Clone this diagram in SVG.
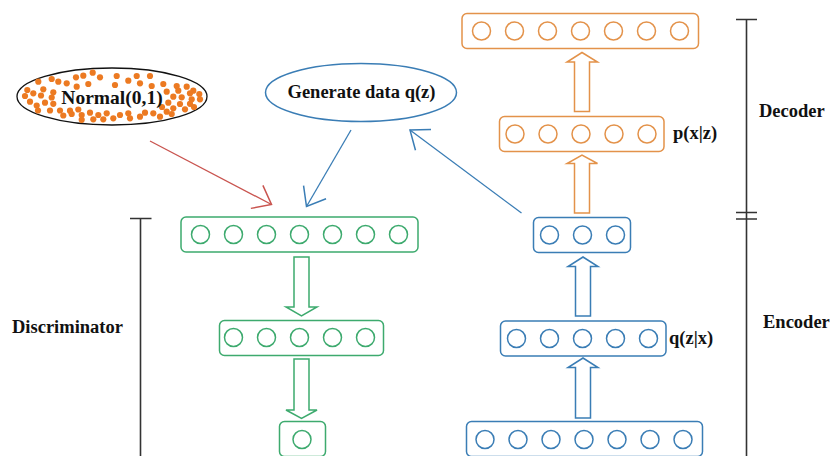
<svg xmlns="http://www.w3.org/2000/svg" width="832" height="456" viewBox="0 0 832 456">
  <style>
    .lbl { font-family: "Liberation Serif", "Times New Roman", serif; font-weight: bold; font-size: 18.5px; fill: #111; }
    .g { fill: none; stroke: #3DAA6E; stroke-width: 1.5; }
    .b { fill: none; stroke: #3A7DB5; stroke-width: 1.5; }
    .o { fill: none; stroke: #E3924A; stroke-width: 1.5; }
    .brk { stroke: #333; stroke-width: 1.6; fill: none; }
    .dot circle { fill: #EC7A22; r: 3.1px; }
  </style>
  <defs>
    <marker id="headBlue" viewBox="-20 -15 22 30" refX="0" refY="0" markerWidth="22" markerHeight="30" markerUnits="userSpaceOnUse" orient="auto" overflow="visible">
      <path d="M-16.5,-13 L0,0 L-16.5,13" fill="none" stroke="#3A7DB5" stroke-width="1.5"/>
    </marker>
    <marker id="headRed" viewBox="-20 -15 22 30" refX="0" refY="0" markerWidth="22" markerHeight="30" markerUnits="userSpaceOnUse" orient="auto" overflow="visible">
      <path d="M-16.5,-13 L0,0 L-16.5,13" fill="none" stroke="#C9544F" stroke-width="1.5"/>
    </marker>
  </defs>

  <rect width="832" height="456" fill="#fff"/>

  <!-- prior distribution -->
  <g id="normal">
    <ellipse cx="112" cy="96.5" rx="95" ry="28.5" fill="#fff" stroke="#111" stroke-width="1.3"/>
    <g class="dot">
      <circle cx="38.3" cy="81.7" r="3.1"/><circle cx="51.7" cy="79" r="3.1"/><circle cx="58.3" cy="81.7" r="3.1"/>
      <circle cx="66.7" cy="83.3" r="3.1"/><circle cx="76" cy="77.3" r="3.1"/><circle cx="83.3" cy="75.7" r="3.1"/>
      <circle cx="92.7" cy="72.7" r="3.1"/><circle cx="100" cy="77.3" r="3.1"/><circle cx="116.7" cy="76" r="3.1"/>
      <circle cx="136.7" cy="76" r="3.1"/><circle cx="150" cy="76" r="3.1"/><circle cx="128.3" cy="80.7" r="3.1"/>
      <circle cx="140" cy="83.3" r="3.1"/><circle cx="151.7" cy="86" r="3.1"/><circle cx="163.3" cy="84" r="3.1"/>
      <circle cx="176.7" cy="86" r="3.1"/><circle cx="186.7" cy="86.7" r="3.1"/><circle cx="193.3" cy="90.7" r="3.1"/>
      <circle cx="27.3" cy="90" r="3.1"/><circle cx="33.3" cy="93.3" r="3.1"/><circle cx="43.3" cy="89.3" r="3.1"/>
      <circle cx="53.3" cy="92.3" r="3.1"/><circle cx="25" cy="96" r="3.1"/><circle cx="41" cy="95.5" r="3.1"/>
      <circle cx="51.7" cy="97.5" r="3.1"/><circle cx="76.7" cy="86.7" r="3.1"/><circle cx="88.3" cy="84" r="3.1"/>
      <circle cx="115" cy="85" r="3.1"/><circle cx="166.7" cy="91.7" r="3.1"/>
      <circle cx="178.3" cy="90.7" r="3.1"/><circle cx="190" cy="93.3" r="3.1"/><circle cx="199.3" cy="94" r="3.1"/>
      <circle cx="173.3" cy="96.7" r="3.1"/><circle cx="181.7" cy="97.3" r="3.1"/><circle cx="191.7" cy="99.3" r="3.1"/>
      <circle cx="200" cy="99.3" r="3.1"/><circle cx="168.3" cy="102.7" r="3.1"/><circle cx="180" cy="104" r="3.1"/>
      <circle cx="190" cy="103.8" r="3.1"/><circle cx="162" cy="107" r="3.1"/>
      <circle cx="173.3" cy="108.3" r="3.1"/><circle cx="185" cy="109.3" r="3.1"/><circle cx="194" cy="107" r="3.1"/>
      <circle cx="30" cy="101.7" r="3.1"/><circle cx="36.7" cy="105.5" r="3.1"/><circle cx="45" cy="102.7" r="3.1"/>
      <circle cx="53.3" cy="103.8" r="3.1"/><circle cx="38" cy="110.5" r="3.1"/><circle cx="50" cy="110.5" r="3.1"/>
      <circle cx="60" cy="110.5" r="3.1"/><circle cx="70" cy="110.7" r="3.1"/><circle cx="63.3" cy="115.5" r="3.1"/>
      <circle cx="71.7" cy="114" r="3.1"/><circle cx="81.7" cy="115" r="3.1"/><circle cx="90" cy="112.7" r="3.1"/>
      <circle cx="98.3" cy="115" r="3.1"/><circle cx="93.3" cy="119.3" r="3.1"/><circle cx="103.3" cy="119.3" r="3.1"/>
      <circle cx="113.3" cy="118.3" r="3.1"/><circle cx="120" cy="115" r="3.1"/><circle cx="128.3" cy="113.3" r="3.1"/>
      <circle cx="130" cy="118.3" r="3.1"/><circle cx="140" cy="116.7" r="3.1"/><circle cx="145" cy="112.7" r="3.1"/>
      <circle cx="153.3" cy="113.3" r="3.1"/><circle cx="160" cy="116.7" r="3.1"/><circle cx="166.7" cy="111.7" r="3.1"/>
      <circle cx="171.7" cy="114" r="3.1"/><circle cx="81.7" cy="119.8" r="3.1"/><circle cx="106.7" cy="113.3" r="3.1"/>
      <circle cx="78.3" cy="109.5" r="3.1"/>
    </g>
    <text class="lbl" x="112" y="104" text-anchor="middle" style="font-size:19.5px">Normal(0,1)</text>
  </g>

  <!-- generated code distribution -->
  <g id="generate">
    <ellipse cx="361" cy="92.5" rx="95.5" ry="29" class="b"/>
    <text class="lbl" x="361.5" y="98" text-anchor="middle">Generate data q(z)</text>
  </g>

  <!-- discriminator layers -->
  <g id="disc-in">
    <rect x="181" y="217" width="237" height="35" rx="5" class="g"/>
    <g class="g">
      <circle cx="200.5" cy="234.5" r="9"/><circle cx="233.5" cy="234.5" r="9"/><circle cx="266.5" cy="234.5" r="9"/>
      <circle cx="299.5" cy="234.5" r="9"/><circle cx="332.5" cy="234.5" r="9"/><circle cx="365.5" cy="234.5" r="9"/>
      <circle cx="398.5" cy="234.5" r="9"/>
    </g>
  </g>
  <g id="disc-hidden">
    <rect x="219.5" y="320.5" width="164" height="35" rx="5" class="g"/>
    <g class="g">
      <circle cx="233.5" cy="337.5" r="9"/><circle cx="266.5" cy="337.5" r="9"/><circle cx="299.5" cy="337.5" r="9"/>
      <circle cx="332.5" cy="337.5" r="9"/><circle cx="365.5" cy="337.5" r="9"/>
    </g>
  </g>
  <g id="disc-out">
    <rect x="279.5" y="421.5" width="46" height="35" rx="5" class="g"/>
    <circle cx="302" cy="439.5" r="9" class="g"/>
  </g>

  <!-- encoder layers -->
  <g id="enc-in">
    <rect x="466.5" y="421.5" width="236" height="35" rx="5" class="b"/>
    <g class="b">
      <circle cx="485" cy="439.5" r="9"/><circle cx="518" cy="439.5" r="9"/><circle cx="551" cy="439.5" r="9"/>
      <circle cx="584" cy="439.5" r="9"/><circle cx="617" cy="439.5" r="9"/><circle cx="650" cy="439.5" r="9"/>
      <circle cx="683" cy="439.5" r="9"/>
    </g>
  </g>
  <g id="enc-hidden">
    <rect x="500.5" y="321" width="165.5" height="35" rx="5" class="b"/>
    <g class="b">
      <circle cx="516.5" cy="338.5" r="9"/><circle cx="549.5" cy="338.5" r="9"/><circle cx="582.5" cy="338.5" r="9"/>
      <circle cx="615.5" cy="338.5" r="9"/><circle cx="648.5" cy="338.5" r="9"/>
    </g>
    <text class="lbl" x="669" y="343.5">q(z|x)</text>
  </g>
  <g id="latent">
    <rect x="533.5" y="217.5" width="97" height="35" rx="5" class="b"/>
    <g class="b">
      <circle cx="549.5" cy="235" r="9"/><circle cx="582.5" cy="235" r="9"/><circle cx="615.5" cy="235" r="9"/>
    </g>
  </g>

  <!-- decoder layers -->
  <g id="dec-hidden">
    <rect x="499.5" y="116.5" width="164.5" height="35" rx="5" class="o"/>
    <g class="o">
      <circle cx="515" cy="134" r="9"/><circle cx="548" cy="134" r="9"/><circle cx="581" cy="134" r="9"/>
      <circle cx="614" cy="134" r="9"/><circle cx="647" cy="134" r="9"/>
    </g>
    <text class="lbl" x="673" y="139">p(x|z)</text>
  </g>
  <g id="dec-out">
    <rect x="462" y="13.5" width="236.5" height="35" rx="5" class="o"/>
    <g class="o">
      <circle cx="481.5" cy="31" r="9"/><circle cx="514.5" cy="31" r="9"/><circle cx="547.5" cy="31" r="9"/>
      <circle cx="580.5" cy="31" r="9"/><circle cx="613.5" cy="31" r="9"/><circle cx="646.5" cy="31" r="9"/>
      <circle cx="679.5" cy="31" r="9"/>
    </g>
  </g>

  <!-- section brackets and labels -->
  <g id="brackets">
    <path class="brk" d="M140.5,218.5 V456 M130,218.5 H151.5"/>
    <path class="brk" d="M746.5,19.5 V456 M736,19.5 H757 M736,212.5 H757 M736,219 H757"/>
    <text class="lbl" x="12" y="332.5">Discriminator</text>
    <text class="lbl" x="759" y="116.5">Decoder</text>
    <text class="lbl" x="763" y="328">Encoder</text>
  </g>

  <!-- connectors -->
  <g id="connectors">
    <polygon class="g" points="294,257 309,257 309,307 317,307 301.5,316 286,307 294,307"/>
    <polygon class="g" points="294,359 309,359 309,410 317,410 301.5,418.5 286,410 294,410"/>
    <polygon class="b" points="575.5,418 590.5,418 590.5,367.5 598,367.5 583,358 568,367.5 575.5,367.5"/>
    <polygon class="b" points="575.5,316 590.5,316 590.5,266.5 598,266.5 583,257 568,266.5 575.5,266.5"/>
    <polygon class="o" points="574.5,213 589.5,213 589.5,163.5 597.5,163.5 582,155 567,163.5 574.5,163.5"/>
    <polygon class="o" points="574.5,111.5 589.5,111.5 589.5,62 597.5,62 582,52.5 567,62 574.5,62"/>
    <path d="M150,141 L271.5,204.5" fill="none" stroke="#C9544F" stroke-width="1.3" marker-end="url(#headRed)"/>
    <path d="M351,130 L306.5,206.5" fill="none" stroke="#3A7DB5" stroke-width="1.3" marker-end="url(#headBlue)"/>
    <path d="M521.5,213 L410,130" fill="none" stroke="#3A7DB5" stroke-width="1.3" marker-end="url(#headBlue)"/>
  </g>
</svg>
